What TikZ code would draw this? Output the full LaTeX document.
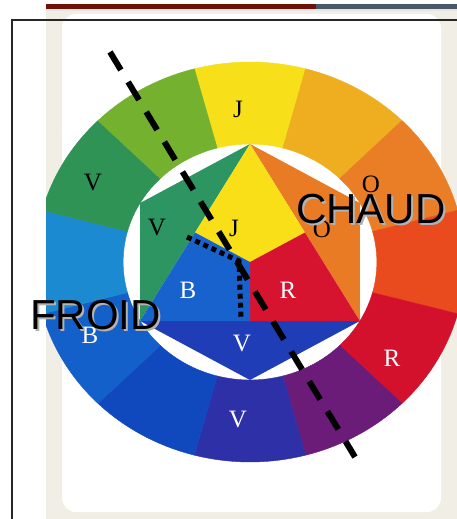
\documentclass[tikz,border=0pt]{standalone}
\usepackage{fontspec}
\setmainfont{Liberation Serif}
\newfontfamily\bigsans{Liberation Sans}
\definecolor{cY}{HTML}{F7DF1A}
\definecolor{cYO}{HTML}{EFAE20}
\definecolor{cO}{HTML}{E97E26}
\definecolor{cRO}{HTML}{E94B1E}
\definecolor{cR}{HTML}{D3112D}
\definecolor{cRV}{HTML}{6B1B78}
\definecolor{cV}{HTML}{2E30A8}
\definecolor{cBV}{HTML}{1049BE}
\definecolor{cB}{HTML}{1460CA}
\definecolor{cBG}{HTML}{1C8AD0}
\definecolor{cG}{HTML}{2F9356}
\definecolor{cYG}{HTML}{74B12F}
\definecolor{iG}{HTML}{2C9562}
\definecolor{iY}{HTML}{F8DF17}
\definecolor{iO}{HTML}{E97B25}
\definecolor{iR}{HTML}{D6142F}
\definecolor{iB}{HTML}{1862CE}
\definecolor{iV}{HTML}{1F3DB6}
\definecolor{cream}{HTML}{F1EEE5}
\definecolor{barred}{HTML}{6E1208}
\definecolor{barslate}{HTML}{4A5868}
\begin{document}
\begin{tikzpicture}[x=1pt,y=-1pt,
  lab/.style={font=\fontsize{25}{25}\selectfont, inner sep=0pt},
  labw/.style={lab, text=white},
  big/.style={font=\bigsans\fontsize{42}{42}\selectfont, inner sep=0pt, anchor=base west},
  bigshadow/.style={big, text=black!30},
  dashline/.style={line width=6pt, dash pattern=on 21pt off 14pt},
  dotline/.style={line width=5pt, dash pattern=on 5pt off 4pt}]
\useasboundingbox (0,0) rectangle (457,519);
\fill[white] (0,0) rectangle (457,519);
% scanned page
\fill[cream] (46,10) rectangle (457,519);
\fill[white, rounded corners=14pt] (62,14) rectangle (441,512);
\fill[barred] (46,4.5) rectangle (316,9.5);
\fill[barslate] (316,4.5) rectangle (457,9.5);
\fill[black!10] (46,9.5) rectangle (457,11);
% colour wheel
\begin{scope}
\clip (46,0) rectangle (457,519);
\begin{scope}[shift={(250,262)}, x=1.075pt, y=1pt]
\foreach \a/\c in {90/cY, 60/cYO, 30/cO, 0/cRO, -30/cR, -60/cRV, -90/cV, -120/cBV, -150/cB, 180/cBG, 150/cG, 120/cYG}{
  \pgfmathsetmacro{\as}{\a-15}
  \pgfmathsetmacro{\ae}{\a+15}
  \filldraw[fill=\c, draw=\c, line width=0.4pt]
    plot[domain=\as:\ae, samples=16] (\x:200) --
    plot[domain=\ae:\as, samples=16] (\x:118) -- cycle;
}
% inner hexagon
\fill[iG] (90:118) -- (150:118) -- (-150:118) -- cycle;
\fill[iO] (90:118) -- (30:118) -- (-30:118) -- cycle;
\fill[iV] (-30:118) -- (-90:118) -- (-150:118) -- cycle;
\fill[iY] (90:118) -- (30:59) -- (0,0) -- (150:59) -- cycle;
\fill[iR] (-30:118) -- (-90:59) -- (0,0) -- (30:59) -- cycle;
\fill[iB] (-150:118) -- (150:59) -- (0,0) -- (-90:59) -- cycle;
\end{scope}
\end{scope}
% letters, outer ring
\node[lab]  (oJ) at (238,109) {J};
\node[lab]  (oO) at (371,184) {O};
\node[labw] (oR) at (392,358) {R};
\node[labw] (oV) at (238,419) {V};
\node[labw] (oB) at (90,335) {B};
\node[lab]  (oG) at (93,183) {V};
% letters, inner
\node[lab]  (iGl) at (157,228) {V};
\node[lab]  (iJl) at (234,228) {J};
\node[lab]  (iOl) at (322,229) {O};
\node[labw] (iBl) at (188,290) {B};
\node[labw] (iRl) at (288,290) {R};
\node[labw] (iVl) at (242,343) {V};
% dashed and dotted lines
\coordinate (d1) at (110,52);
\coordinate (d2) at (355,457);
\draw[dashline] (d1) -- (d2);
\coordinate (p1) at (187,237);
\coordinate (p2) at (239,261);
\coordinate (p3) at (241,319);
\draw[dotline] (p1) -- (p2) -- (p3);
% big words
\node[bigshadow] at (32,331) {FROID};
\node[big] (froid) at (30,329) {FROID};
\node[bigshadow] at (298,225) {CHAUD};
\node[big] (chaud) at (296,223) {CHAUD};
% frame
\draw[line width=2pt, black!85] (12,521) -- (12,20) -- (459,20);
\end{tikzpicture}
\end{document}
